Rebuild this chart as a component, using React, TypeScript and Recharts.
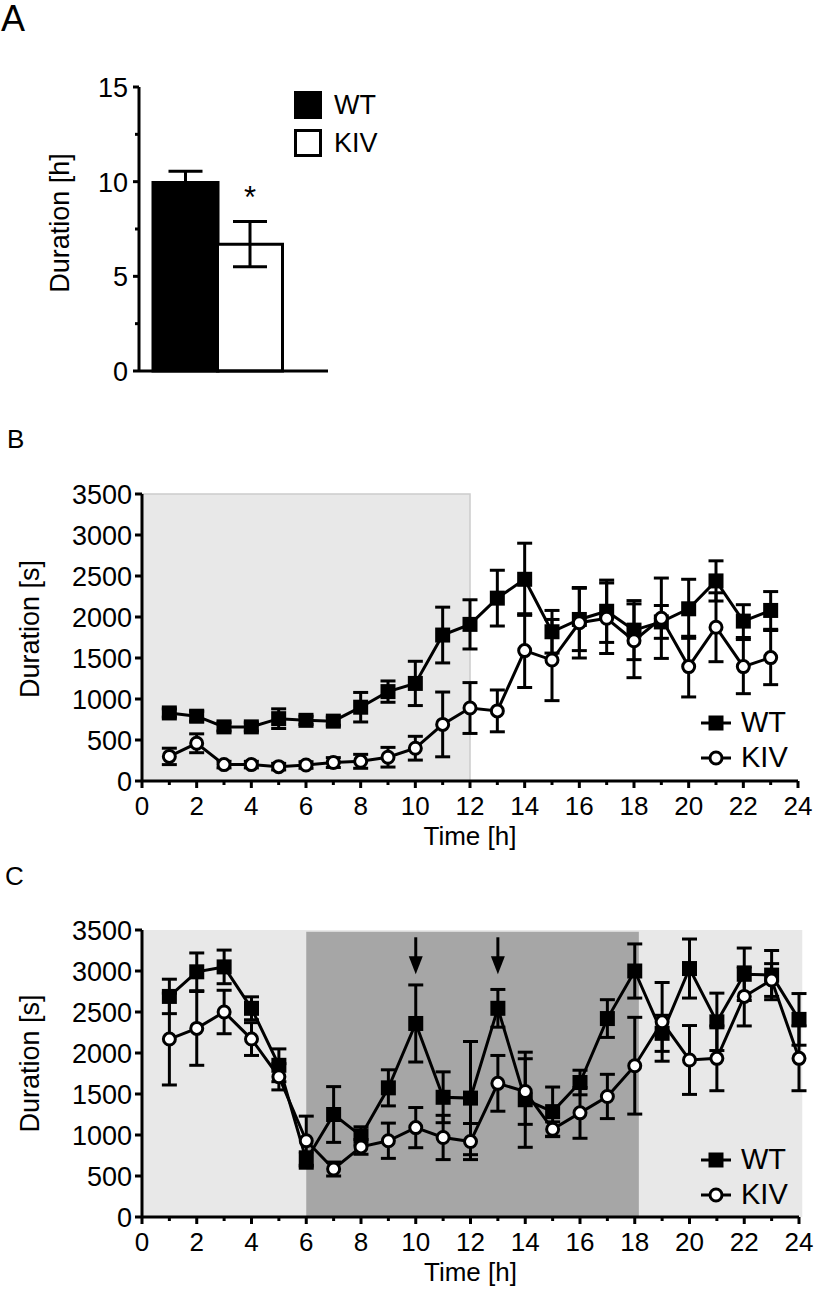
import React from 'react';
import {
  ComposedChart,
  BarChart,
  Bar,
  Line,
  Scatter,
  XAxis,
  YAxis,
  ErrorBar,
  ReferenceArea,
  Legend,
  LabelList,
  Cell,
  Label,
} from 'recharts';

const FONT = '"Liberation Sans", Arial, Helvetica, sans-serif';

// Panel A: total duration per genotype
const groups = ['WT', 'KIV'];
const totalHours = [9.95, 6.7];
const totalHoursSem = [0.6, 1.2];
const groupFill = ['#000000', '#ffffff'];
const significance = ['', '*'];
const ticksA = [0, 2.5, 5, 7.5, 10, 12.5, 15];

// Panel B: hourly duration
const hoursB = [1, 2, 3, 4, 5, 6, 7, 8, 9, 10, 11, 12, 13, 14, 15, 16, 17, 18, 19, 20, 21, 22, 23];
const wtB = [830, 790, 660, 660, 760, 740, 730, 900, 1090, 1190, 1780, 1910, 2230, 2460, 1820, 1970, 2070, 1840, 1940, 2100, 2440, 1950, 2080];
const wtBSem = [50, 60, 50, 50, 120, 50, 50, 180, 130, 270, 340, 300, 340, 440, 260, 380, 380, 360, 200, 360, 245, 200, 230];
const kivB = [300, 460, 200, 200, 175, 195, 225, 240, 290, 400, 690, 890, 855, 1590, 1475, 1930, 1985, 1710, 1985, 1395, 1875, 1395, 1505];
const kivBSem = [100, 115, 40, 40, 40, 40, 60, 85, 120, 145, 395, 310, 255, 450, 495, 430, 430, 450, 490, 370, 420, 330, 330];

// Panel C: hourly duration, second protocol
const hoursC = [1, 2, 3, 4, 5, 6, 7, 8, 9, 10, 11, 12, 13, 14, 15, 16, 17, 18, 19, 20, 21, 22, 23, 24];
const wtC = [2690, 2990, 3050, 2545, 1850, 695, 1250, 990, 1575, 2360, 1460, 1450, 2545, 1430, 1285, 1640, 2420, 3000, 2240, 3030, 2380, 2960, 2950, 2410];
const wtCSem = [210, 230, 205, 140, 200, 100, 340, 110, 220, 470, 310, 690, 230, 580, 300, 150, 230, 330, 220, 360, 350, 320, 300, 315];
const kivC = [2170, 2300, 2500, 2170, 1710, 930, 585, 855, 930, 1090, 970, 920, 1630, 1530, 1070, 1270, 1470, 1845, 2380, 1915, 1935, 2690, 2890, 1935];
const kivCSem = [560, 450, 265, 200, 160, 300, 85, 90, 215, 245, 270, 220, 340, 400, 90, 310, 270, 590, 480, 420, 395, 360, 200, 395];
const arrowHours = [10, 13];
const arrowTips = [2960, 2960];

const hourTicks = [0, 1, 2, 3, 4, 5, 6, 7, 8, 9, 10, 11, 12, 13, 14, 15, 16, 17, 18, 19, 20, 21, 22, 23, 24];
const durationTicks = [0, 500, 1000, 1500, 2000, 2500, 3000, 3500];

const dataA = groups.map((g, i) => ({ g, v: totalHours[i], err: totalHoursSem[i], sig: significance[i] }));
const dataB = hoursB.map((h, i) => ({ h, wt: wtB[i], wtErr: wtBSem[i], kiv: kivB[i], kivErr: kivBSem[i] }));
const dataC = hoursC.map((h, i) => ({ h, wt: wtC[i], wtErr: wtCSem[i], kiv: kivC[i], kivErr: kivCSem[i] }));
const arrowRows = arrowHours.map((h, i) => ({ h, tip: arrowTips[i] }));

const axisLine = { stroke: '#000', strokeWidth: 3 };

const yTick = (labelled: (v: number) => boolean, minorLen: number, majorLen: number, gap: number) => (props: any) => {
  const { x, y, payload } = props;
  const major = labelled(payload.value);
  const len = major ? majorLen : minorLen;
  return (
    <g>
      <line x1={x - len} x2={x} y1={y} y2={y} stroke="#000" strokeWidth={3} />
      {major && (
        <text x={x - gap} y={y + 10} textAnchor="end" fontSize={27} fontFamily={FONT} fill="#000">
          {payload.value}
        </text>
      )}
    </g>
  );
};

const xTick = (props: any) => {
  const { x, y, payload } = props;
  const major = payload.value % 2 === 0;
  return (
    <g>
      <line x1={x} x2={x} y1={y} y2={y + (major ? 7 : 4)} stroke="#000" strokeWidth={3} />
      {major && (
        <text x={x} y={y + 34} textAnchor="middle" fontSize={26} fontFamily={FONT} fill="#000">
          {payload.value}
        </text>
      )}
    </g>
  );
};

const yTitle = (text: string, x: number, shift: number) => (props: any) => {
  const vb = props.viewBox;
  const cy = vb.y + vb.height / 2 + shift;
  return (
    <text x={x} y={cy} transform={`rotate(-90, ${x}, ${cy})`} textAnchor="middle" fontSize={27} fontFamily={FONT} fill="#000">
      {text}
    </text>
  );
};

const xTitle = (props: any) => {
  const vb = props.viewBox;
  return (
    <text x={vb.x + vb.width / 2} y={vb.y + 64} textAnchor="middle" fontSize={26} fontFamily={FONT} fill="#000">
      Time [h]
    </text>
  );
};

const SquareDot = (props: any) => {
  const { cx, cy, index } = props;
  return <rect key={`sq-${index}`} x={cx - 7.5} y={cy - 7.5} width={15} height={15} fill="#000" />;
};

const CircleDot = (props: any) => {
  const { cx, cy, index } = props;
  return <circle key={`ci-${index}`} cx={cx} cy={cy} r={6} fill="#fff" stroke="#000" strokeWidth={3} />;
};

const ArrowMark = (props: any) => {
  const { cx, cy } = props;
  return (
    <g>
      <line x1={cx} x2={cx} y1={cy - 37} y2={cy - 14} stroke="#000" strokeWidth={3} />
      <polygon points={`${cx - 7},${cy - 18} ${cx + 7},${cy - 18} ${cx},${cy}`} fill="#000" />
    </g>
  );
};

const SeriesLegend = () => (
  <div style={{ fontFamily: FONT, fontSize: 29, color: '#000' }}>
    {groups.map((g, i) => (
      <div key={g} style={{ display: 'flex', alignItems: 'center', height: 35 }}>
        <svg width={32} height={20} style={{ display: 'block' }}>
          <line x1={1} x2={31} y1={10} y2={10} stroke="#000" strokeWidth={3} />
          {i === 0 ? (
            <rect x={8.5} y={2.5} width={15} height={15} fill="#000" />
          ) : (
            <circle cx={16} cy={10} r={6} fill="#fff" stroke="#000" strokeWidth={3} />
          )}
        </svg>
        <span style={{ marginLeft: 9, lineHeight: '35px' }}>{g}</span>
      </div>
    ))}
  </div>
);

const BarLegend = () => (
  <div style={{ fontFamily: FONT, fontSize: 27, color: '#000' }}>
    {groups.map((g, i) => (
      <div key={g} style={{ display: 'flex', alignItems: 'center', height: 38 }}>
        <div
          style={{
            width: 28,
            height: 28,
            boxSizing: 'border-box',
            background: groupFill[i],
            border: '3px solid #000',
          }}
        />
        <span style={{ marginLeft: 12, lineHeight: '38px' }}>{g}</span>
      </div>
    ))}
  </div>
);

const panelLetter = (text: string, left: number, top: number, size: number) => (
  <div
    style={{
      position: 'absolute',
      left,
      top,
      fontFamily: FONT,
      fontSize: size,
      lineHeight: 1,
      color: '#000',
    }}
  >
    {text}
  </div>
);

const App: React.FC = () => {
  return (
    <div style={{ position: 'absolute', left: 0, top: 0, width: 825, height: 1300, background: '#fff' }}>
      {panelLetter('A', 1, 1, 36)}
      {panelLetter('B', 7, 426, 26)}
      {panelLetter('C', 5, 863, 26)}

      <div style={{ position: 'absolute', left: 0, top: 0 }}>
        <BarChart
          width={400}
          height={400}
          data={dataA}
          margin={{ top: 87, right: 72, bottom: 0, left: 0 }}
          barCategoryGap={0}
          barGap={0}
        >
          <XAxis
            dataKey="g"
            tick={false}
            tickLine={false}
            axisLine={axisLine}
            height={29}
            padding={{ left: 14, right: 46 }}
          />
          <YAxis
            domain={[0, 15]}
            ticks={ticksA}
            interval={0}
            width={139}
            tickSize={0}
            tickMargin={0}
            tickLine={false}
            axisLine={axisLine}
            tick={yTick((v) => v % 5 === 0, 4, 6, 11)}
          >
            <Label content={yTitle('Duration [h]', 69, -6)} />
          </YAxis>
          <Legend
            layout="horizontal"
            verticalAlign="middle"
            align="center"
            content={BarLegend}
            wrapperStyle={{ left: 294, top: 85.5, width: 100, height: 76 }}
          />
          <Bar dataKey="v" stroke="#000" strokeWidth={3} isAnimationActive={false}>
            {dataA.map((d, i) => (
              <Cell key={d.g} fill={groupFill[i]} />
            ))}
            <ErrorBar dataKey="err" width={17} strokeWidth={3} stroke="#000" direction="y" />
            <LabelList
              dataKey="sig"
              content={(p: any) =>
                p.value ? (
                  <text x={p.x + p.width / 2} y={p.y - 36} textAnchor="middle" fontSize={31} fontFamily={FONT} fill="#000">
                    {p.value}
                  </text>
                ) : null
              }
            />
          </Bar>
        </BarChart>
      </div>

      <div style={{ position: 'absolute', left: 0, top: 400 }}>
        <ComposedChart width={825} height={460} data={dataB} margin={{ top: 94, right: 27, bottom: 0, left: 0 }}>
          <ReferenceArea x1={0} x2={12} y1={0} y2={3500} fill="#e8e8e8" fillOpacity={1} stroke="#cccccc" strokeWidth={1.5} ifOverflow="visible" />
          <XAxis
            type="number"
            dataKey="h"
            domain={[0, 24]}
            ticks={hourTicks}
            interval={0}
            height={79}
            tickSize={0}
            tickMargin={0}
            tickLine={false}
            axisLine={axisLine}
            tick={xTick}
          >
            <Label content={xTitle} />
          </XAxis>
          <YAxis
            domain={[0, 3500]}
            ticks={durationTicks}
            interval={0}
            width={142}
            tickSize={0}
            tickMargin={0}
            tickLine={false}
            axisLine={axisLine}
            tick={yTick(() => true, 7, 7, 10)}
          >
            <Label content={yTitle('Duration [s]', 39, -8.5)} />
          </YAxis>
          <Legend
            layout="horizontal"
            verticalAlign="middle"
            align="center"
            content={SeriesLegend}
            wrapperStyle={{ left: 700, top: 305, width: 120, height: 70 }}
          />
          <Line dataKey="wt" stroke="#000" strokeWidth={3} dot={SquareDot} activeDot={false} isAnimationActive={false}>
            <ErrorBar dataKey="wtErr" width={7.5} strokeWidth={3} stroke="#000" direction="y" />
          </Line>
          <Line dataKey="kiv" stroke="#000" strokeWidth={3} dot={CircleDot} activeDot={false} isAnimationActive={false}>
            <ErrorBar dataKey="kivErr" width={7.5} strokeWidth={3} stroke="#000" direction="y" />
          </Line>
        </ComposedChart>
      </div>

      <div style={{ position: 'absolute', left: 0, top: 860 }}>
        <ComposedChart width={825} height={440} data={dataC} margin={{ top: 70, right: 26, bottom: 0, left: 0 }}>
          <ReferenceArea x1={0} x2={24.12} y1={0} y2={3500} fill="#e8e8e8" fillOpacity={1} ifOverflow="visible" />
          <ReferenceArea x1={6} x2={18.15} y1={0} y2={3480} fill="#a6a6a6" fillOpacity={1} ifOverflow="visible" />
          <XAxis
            type="number"
            dataKey="h"
            domain={[0, 24]}
            ticks={hourTicks}
            interval={0}
            height={83}
            tickSize={0}
            tickMargin={0}
            tickLine={false}
            axisLine={axisLine}
            tick={xTick}
          >
            <Label content={xTitle} />
          </XAxis>
          <YAxis
            domain={[0, 3500]}
            ticks={durationTicks}
            interval={0}
            width={142}
            tickSize={0}
            tickMargin={0}
            tickLine={false}
            axisLine={axisLine}
            tick={yTick(() => true, 7, 7, 10)}
          >
            <Label content={yTitle('Duration [s]', 39, -10)} />
          </YAxis>
          <Legend
            layout="horizontal"
            verticalAlign="middle"
            align="center"
            content={SeriesLegend}
            wrapperStyle={{ left: 700, top: 282, width: 120, height: 70 }}
          />
          <Line dataKey="wt" stroke="#000" strokeWidth={3} dot={SquareDot} activeDot={false} isAnimationActive={false}>
            <ErrorBar dataKey="wtErr" width={7.5} strokeWidth={3} stroke="#000" direction="y" />
          </Line>
          <Line dataKey="kiv" stroke="#000" strokeWidth={3} dot={CircleDot} activeDot={false} isAnimationActive={false}>
            <ErrorBar dataKey="kivErr" width={7.5} strokeWidth={3} stroke="#000" direction="y" />
          </Line>
          <Scatter data={arrowRows} dataKey="tip" shape={ArrowMark} isAnimationActive={false} />
        </ComposedChart>
      </div>
    </div>
  );
};

export default App;
